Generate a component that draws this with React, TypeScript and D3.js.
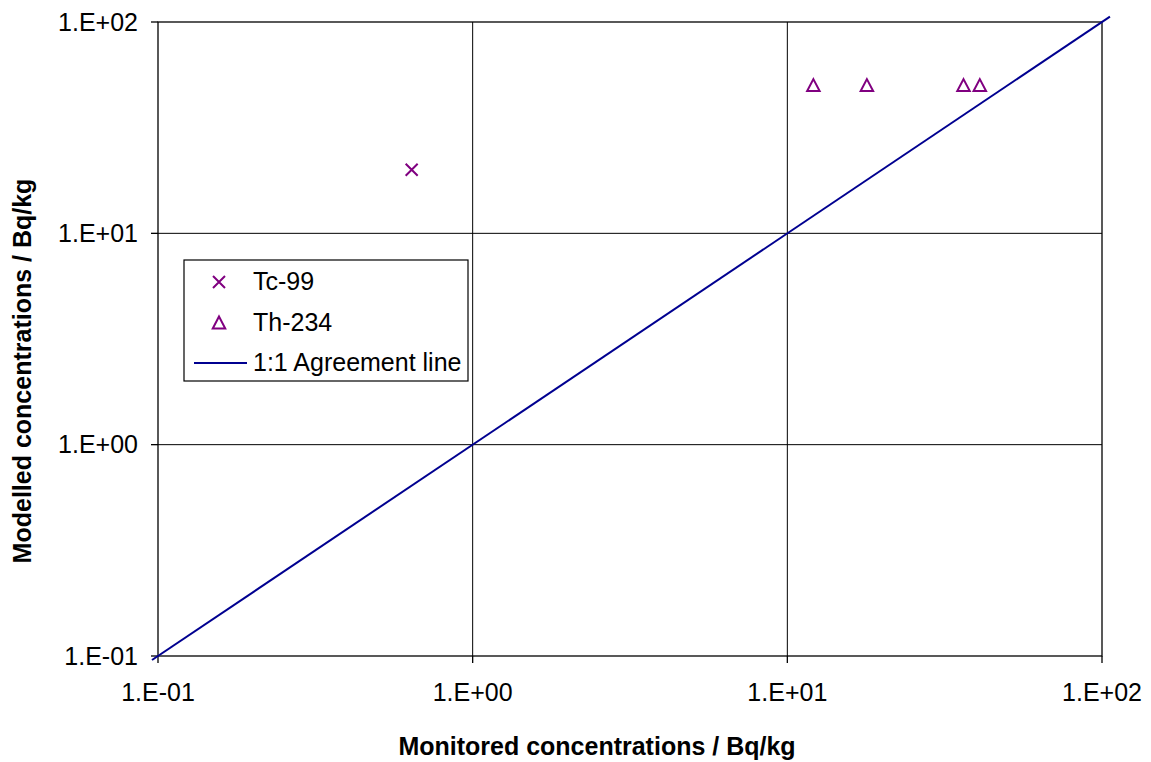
import React from "react";
import * as d3 from "d3";

const xTicks = [0.1, 1, 10, 100];
const yTicks = [0.1, 1, 10, 100];
const tickLabels = ["1.E-01", "1.E+00", "1.E+01", "1.E+02"];
const tcX = [0.64];
const tcY = [20];
const thX = [12.1, 17.9, 36.3, 40.9];
const thY = [50, 50, 50, 50];
const agreeX = [0.0957, 106];
const agreeY = [0.0957, 106];
const legendLabels = ["Tc-99", "Th-234", "1:1 Agreement line"];
const xTitle = "Monitored concentrations / Bq/kg";
const yTitle = "Modelled concentrations / Bq/kg";

const W = 1151, H = 762;
const L = 158, R = 1102, T = 22, B = 656;
const PURPLE = "#800080";
const NAVY = "#000090";
const FONT = "'Liberation Sans', Arial, sans-serif";
const FS = 25;

export default function App() {
  const x = d3.scaleLog().domain([0.1, 100]).range([L, R]);
  const y = d3.scaleLog().domain([0.1, 100]).range([B, T]);
  const line = d3.line<[number, number]>().x(d => x(d[0])).y(d => y(d[1]));
  const agree: [number, number][] = agreeX.map((v, i) => [v, agreeY[i]]);
  const cross = (cx: number, cy: number, s: number) =>
    `M${cx - s},${cy - s}L${cx + s},${cy + s}M${cx - s},${cy + s}L${cx + s},${cy - s}`;
  const triPath = (cx: number, cy: number) => {
    const h = 11, w = 12.5;
    return `M${cx},${cy - h / 2 - 1}L${cx + w / 2},${cy + h / 2}L${cx - w / 2},${cy + h / 2}Z`;
  };
  return (
    <svg width={W} height={H} style={{ position: "absolute", left: 0, top: 0, background: "#fff" }} fontFamily={FONT}>
      <rect x={0} y={0} width={W} height={H} fill="#fff" />
      {xTicks.slice(1, -1).map((t, i) => (
        <line key={"gx" + i} x1={x(t)} x2={x(t)} y1={T} y2={B} stroke="#000" strokeWidth={1} />
      ))}
      {yTicks.slice(1, -1).map((t, i) => (
        <line key={"gy" + i} x1={L} x2={R} y1={y(t)} y2={y(t)} stroke="#000" strokeWidth={1} />
      ))}
      <rect x={L} y={T} width={R - L} height={B - T} fill="none" stroke="#000" strokeWidth={1.3} />
      {yTicks.map((t, i) => (
        <g key={"yt" + i}>
          <line x1={L - 7} x2={L} y1={y(t)} y2={y(t)} stroke="#000" strokeWidth={1.3} />
          <text x={L - 20} y={y(t)} dy="0.35em" textAnchor="end" fontSize={FS}>{tickLabels[i]}</text>
        </g>
      ))}
      {xTicks.map((t, i) => (
        <g key={"xt" + i}>
          <line x1={x(t)} x2={x(t)} y1={B} y2={B + 7} stroke="#000" strokeWidth={1.3} />
          <text x={x(t)} y={B + 36} dy="0.35em" textAnchor="middle" fontSize={FS}>{tickLabels[i]}</text>
        </g>
      ))}
      <path d={line(agree) || ""} fill="none" stroke={NAVY} strokeWidth={2} />
      {tcX.map((v, i) => (
        <path key={"tc" + i} d={cross(x(v), y(tcY[i]), 6)} stroke={PURPLE} strokeWidth={2} fill="none" />
      ))}
      {thX.map((v, i) => (
        <path key={"th" + i} d={triPath(x(v), y(thY[i]))} stroke={PURPLE} strokeWidth={2} fill="none" />
      ))}
      <rect x={184} y={260} width={284} height={121} fill="#fff" stroke="#000" strokeWidth={1.2} />
      <path d={cross(219, 282, 6)} stroke={PURPLE} strokeWidth={2} fill="none" />
      <path d={triPath(219, 323)} stroke={PURPLE} strokeWidth={2} fill="none" />
      <line x1={194} x2={247} y1={363} y2={363} stroke={NAVY} strokeWidth={2} />
      {legendLabels.map((s, i) => (
        <text key={"lg" + i} x={253} y={[281, 322, 362][i]} dy="0.35em" fontSize={FS}>{s}</text>
      ))}
      <text x={597} y={746} dy="0.35em" textAnchor="middle" fontSize={FS} fontWeight="bold">{xTitle}</text>
      <text transform={`translate(22,371) rotate(-90)`} dy="0.35em" textAnchor="middle" fontSize={FS} fontWeight="bold">{yTitle}</text>
    </svg>
  );
}
